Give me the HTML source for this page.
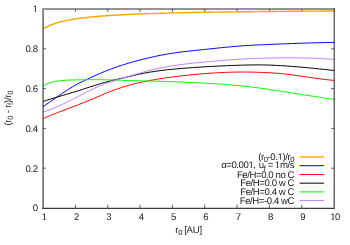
<!DOCTYPE html>
<html><head><meta charset="utf-8"><title>plot</title>
<style>
html,body{margin:0;padding:0;background:#fff;width:350px;height:245px;overflow:hidden}
svg{position:absolute;left:0;top:0;display:block}
#t{opacity:0.9;will-change:transform}
svg text{font-family:"Liberation Sans",sans-serif;font-size:9.6px;letter-spacing:-0.42px;fill:#000;text-rendering:geometricPrecision}
</style></head><body>
<svg width="350" height="245" viewBox="0 0 350 245">
<rect width="350" height="245" fill="#fff"/>
<path d="M75.43,208.0 v-3.3 M75.43,9.0 v2.9 M107.77,208.0 v-3.3 M107.77,9.0 v2.9 M140.10,208.0 v-3.3 M140.10,9.0 v2.9 M172.43,208.0 v-3.3 M172.43,9.0 v2.9 M204.77,208.0 v-3.3 M204.77,9.0 v2.9 M237.10,208.0 v-3.3 M237.10,9.0 v2.9 M269.43,208.0 v-3.3 M269.43,9.0 v2.9 M301.77,208.0 v-3.3 M301.77,9.0 v2.9 M43.1,168.20 h2.8 M334.1,168.20 h-3.0 M43.1,128.40 h2.8 M334.1,128.40 h-3.0 M43.1,88.60 h2.8 M334.1,88.60 h-3.0 M43.1,48.80 h2.8 M334.1,48.80 h-3.0" stroke="#000" stroke-opacity="0.62" stroke-width="1.0" fill="none"/>
<path d="M43.10,28.90 L45.55,27.50 L47.99,26.29 L50.44,25.22 L52.88,24.28 L55.33,23.44 L57.77,22.69 L60.22,22.01 L62.66,21.40 L65.11,20.84 L67.55,20.33 L70.00,19.86 L72.44,19.43 L74.89,19.03 L77.34,18.67 L79.78,18.32 L82.23,18.00 L84.67,17.71 L87.12,17.43 L89.56,17.17 L92.01,16.92 L94.45,16.69 L96.90,16.47 L99.34,16.26 L101.79,16.07 L104.23,15.88 L106.68,15.71 L109.13,15.54 L111.57,15.38 L114.02,15.23 L116.46,15.09 L118.91,14.95 L121.35,14.82 L123.80,14.69 L126.24,14.57 L128.69,14.46 L131.13,14.35 L133.58,14.24 L136.02,14.14 L138.47,14.04 L140.92,13.94 L143.36,13.85 L145.81,13.76 L148.25,13.68 L150.70,13.60 L153.14,13.52 L155.59,13.44 L158.03,13.37 L160.48,13.30 L162.92,13.23 L165.37,13.16 L167.81,13.10 L170.26,13.03 L172.71,12.97 L175.15,12.91 L177.60,12.86 L180.04,12.80 L182.49,12.75 L184.93,12.69 L187.38,12.64 L189.82,12.59 L192.27,12.55 L194.71,12.50 L197.16,12.45 L199.60,12.41 L202.05,12.36 L204.49,12.32 L206.94,12.28 L209.39,12.24 L211.83,12.20 L214.28,12.16 L216.72,12.12 L219.17,12.09 L221.61,12.05 L224.06,12.02 L226.50,11.98 L228.95,11.95 L231.39,11.92 L233.84,11.88 L236.28,11.85 L238.73,11.82 L241.18,11.79 L243.62,11.76 L246.07,11.73 L248.51,11.71 L250.96,11.68 L253.40,11.65 L255.85,11.63 L258.29,11.60 L260.74,11.57 L263.18,11.55 L265.63,11.52 L268.07,11.50 L270.52,11.48 L272.97,11.45 L275.41,11.43 L277.86,11.41 L280.30,11.39 L282.75,11.37 L285.19,11.34 L287.64,11.32 L290.08,11.30 L292.53,11.28 L294.97,11.26 L297.42,11.24 L299.86,11.23 L302.31,11.21 L304.76,11.19 L307.20,11.17 L309.65,11.15 L312.09,11.14 L314.54,11.12 L316.98,11.10 L319.43,11.08 L321.87,11.07 L324.32,11.05 L326.76,11.04 L329.21,11.02 L331.65,11.01 L334.10,10.99" stroke="#ffa500" stroke-width="1.4" fill="none" stroke-linejoin="round"/>
<path d="M43.10,106.50 L45.55,104.89 L47.99,103.24 L50.44,101.57 L52.88,99.88 L55.33,98.19 L57.77,96.50 L60.22,94.82 L62.66,93.16 L65.11,91.52 L67.55,89.93 L70.00,88.39 L72.44,86.90 L74.89,85.48 L77.34,84.13 L79.78,82.85 L82.23,81.63 L84.67,80.45 L87.12,79.29 L89.56,78.15 L92.01,77.01 L94.45,75.90 L96.90,74.80 L99.34,73.72 L101.79,72.67 L104.23,71.65 L106.68,70.67 L109.13,69.71 L111.57,68.79 L114.02,67.90 L116.46,67.04 L118.91,66.21 L121.35,65.41 L123.80,64.63 L126.24,63.88 L128.69,63.14 L131.13,62.44 L133.58,61.75 L136.02,61.08 L138.47,60.43 L140.92,59.79 L143.36,59.17 L145.81,58.57 L148.25,57.98 L150.70,57.41 L153.14,56.86 L155.59,56.33 L158.03,55.82 L160.48,55.33 L162.92,54.86 L165.37,54.41 L167.81,53.98 L170.26,53.57 L172.71,53.19 L175.15,52.83 L177.60,52.49 L180.04,52.16 L182.49,51.85 L184.93,51.55 L187.38,51.27 L189.82,51.00 L192.27,50.73 L194.71,50.47 L197.16,50.22 L199.60,49.96 L202.05,49.71 L204.49,49.46 L206.94,49.21 L209.39,48.95 L211.83,48.70 L214.28,48.44 L216.72,48.18 L219.17,47.93 L221.61,47.68 L224.06,47.43 L226.50,47.19 L228.95,46.95 L231.39,46.73 L233.84,46.51 L236.28,46.30 L238.73,46.11 L241.18,45.92 L243.62,45.75 L246.07,45.59 L248.51,45.44 L250.96,45.29 L253.40,45.16 L255.85,45.03 L258.29,44.92 L260.74,44.80 L263.18,44.69 L265.63,44.59 L268.07,44.48 L270.52,44.38 L272.97,44.28 L275.41,44.18 L277.86,44.08 L280.30,43.99 L282.75,43.89 L285.19,43.80 L287.64,43.71 L290.08,43.61 L292.53,43.53 L294.97,43.44 L297.42,43.35 L299.86,43.27 L302.31,43.19 L304.76,43.11 L307.20,43.04 L309.65,42.96 L312.09,42.89 L314.54,42.82 L316.98,42.76 L319.43,42.70 L321.87,42.64 L324.32,42.58 L326.76,42.53 L329.21,42.48 L331.65,42.44 L334.10,42.40" stroke="#0000ff" stroke-width="1.0" fill="none" stroke-linejoin="round"/>
<path d="M43.10,118.50 L45.55,117.46 L47.99,116.44 L50.44,115.44 L52.88,114.46 L55.33,113.50 L57.77,112.55 L60.22,111.61 L62.66,110.68 L65.11,109.75 L67.55,108.83 L70.00,107.91 L72.44,106.99 L74.89,106.06 L77.34,105.13 L79.78,104.19 L82.23,103.24 L84.67,102.27 L87.12,101.29 L89.56,100.29 L92.01,99.27 L94.45,98.23 L96.90,97.17 L99.34,96.11 L101.79,95.05 L104.23,94.01 L106.68,92.98 L109.13,91.99 L111.57,91.03 L114.02,90.11 L116.46,89.23 L118.91,88.39 L121.35,87.58 L123.80,86.81 L126.24,86.08 L128.69,85.38 L131.13,84.71 L133.58,84.07 L136.02,83.46 L138.47,82.87 L140.92,82.32 L143.36,81.79 L145.81,81.28 L148.25,80.80 L150.70,80.34 L153.14,79.90 L155.59,79.48 L158.03,79.07 L160.48,78.69 L162.92,78.31 L165.37,77.96 L167.81,77.61 L170.26,77.28 L172.71,76.96 L175.15,76.64 L177.60,76.34 L180.04,76.05 L182.49,75.76 L184.93,75.49 L187.38,75.23 L189.82,74.97 L192.27,74.73 L194.71,74.49 L197.16,74.27 L199.60,74.05 L202.05,73.84 L204.49,73.65 L206.94,73.46 L209.39,73.28 L211.83,73.11 L214.28,72.96 L216.72,72.81 L219.17,72.67 L221.61,72.55 L224.06,72.44 L226.50,72.34 L228.95,72.25 L231.39,72.18 L233.84,72.12 L236.28,72.08 L238.73,72.05 L241.18,72.04 L243.62,72.04 L246.07,72.05 L248.51,72.07 L250.96,72.11 L253.40,72.16 L255.85,72.22 L258.29,72.29 L260.74,72.37 L263.18,72.47 L265.63,72.57 L268.07,72.69 L270.52,72.82 L272.97,72.97 L275.41,73.13 L277.86,73.31 L280.30,73.52 L282.75,73.75 L285.19,74.01 L287.64,74.29 L290.08,74.59 L292.53,74.90 L294.97,75.23 L297.42,75.58 L299.86,75.93 L302.31,76.29 L304.76,76.65 L307.20,77.01 L309.65,77.38 L312.09,77.74 L314.54,78.09 L316.98,78.44 L319.43,78.77 L321.87,79.09 L324.32,79.40 L326.76,79.68 L329.21,79.95 L331.65,80.19 L334.10,80.40" stroke="#ff0000" stroke-width="1.0" fill="none" stroke-linejoin="round"/>
<path d="M43.10,101.50 L45.55,100.68 L47.99,99.89 L50.44,99.11 L52.88,98.36 L55.33,97.61 L57.77,96.88 L60.22,96.15 L62.66,95.43 L65.11,94.71 L67.55,93.99 L70.00,93.26 L72.44,92.52 L74.89,91.77 L77.34,91.01 L79.78,90.24 L82.23,89.45 L84.67,88.66 L87.12,87.87 L89.56,87.08 L92.01,86.29 L94.45,85.52 L96.90,84.75 L99.34,84.01 L101.79,83.28 L104.23,82.58 L106.68,81.90 L109.13,81.25 L111.57,80.63 L114.02,80.04 L116.46,79.47 L118.91,78.91 L121.35,78.36 L123.80,77.80 L126.24,77.23 L128.69,76.65 L131.13,76.06 L133.58,75.48 L136.02,74.91 L138.47,74.35 L140.92,73.83 L143.36,73.33 L145.81,72.87 L148.25,72.43 L150.70,72.02 L153.14,71.63 L155.59,71.27 L158.03,70.93 L160.48,70.60 L162.92,70.30 L165.37,70.01 L167.81,69.74 L170.26,69.48 L172.71,69.24 L175.15,69.00 L177.60,68.78 L180.04,68.56 L182.49,68.35 L184.93,68.16 L187.38,67.97 L189.82,67.79 L192.27,67.61 L194.71,67.45 L197.16,67.29 L199.60,67.13 L202.05,66.98 L204.49,66.84 L206.94,66.69 L209.39,66.56 L211.83,66.42 L214.28,66.29 L216.72,66.17 L219.17,66.04 L221.61,65.93 L224.06,65.82 L226.50,65.71 L228.95,65.60 L231.39,65.51 L233.84,65.41 L236.28,65.33 L238.73,65.24 L241.18,65.17 L243.62,65.10 L246.07,65.03 L248.51,64.98 L250.96,64.94 L253.40,64.91 L255.85,64.89 L258.29,64.89 L260.74,64.91 L263.18,64.94 L265.63,64.99 L268.07,65.06 L270.52,65.14 L272.97,65.24 L275.41,65.35 L277.86,65.48 L280.30,65.61 L282.75,65.76 L285.19,65.91 L287.64,66.08 L290.08,66.25 L292.53,66.43 L294.97,66.63 L297.42,66.83 L299.86,67.03 L302.31,67.25 L304.76,67.47 L307.20,67.70 L309.65,67.93 L312.09,68.17 L314.54,68.41 L316.98,68.66 L319.43,68.91 L321.87,69.17 L324.32,69.43 L326.76,69.69 L329.21,69.96 L331.65,70.23 L334.10,70.50" stroke="#000000" stroke-width="1.0" fill="none" stroke-linejoin="round"/>
<path d="M43.10,85.80 L45.55,84.49 L47.99,83.45 L50.44,82.65 L52.88,82.01 L55.33,81.51 L57.77,81.10 L60.22,80.79 L62.66,80.53 L65.11,80.33 L67.55,80.18 L70.00,80.06 L72.44,79.97 L74.89,79.91 L77.34,79.85 L79.78,79.80 L82.23,79.76 L84.67,79.74 L87.12,79.72 L89.56,79.70 L92.01,79.70 L94.45,79.70 L96.90,79.70 L99.34,79.72 L101.79,79.75 L104.23,79.78 L106.68,79.83 L109.13,79.89 L111.57,79.96 L114.02,80.03 L116.46,80.11 L118.91,80.19 L121.35,80.27 L123.80,80.36 L126.24,80.44 L128.69,80.52 L131.13,80.59 L133.58,80.67 L136.02,80.74 L138.47,80.80 L140.92,80.87 L143.36,80.93 L145.81,80.99 L148.25,81.05 L150.70,81.11 L153.14,81.16 L155.59,81.22 L158.03,81.27 L160.48,81.33 L162.92,81.39 L165.37,81.46 L167.81,81.53 L170.26,81.61 L172.71,81.69 L175.15,81.78 L177.60,81.87 L180.04,81.97 L182.49,82.08 L184.93,82.18 L187.38,82.30 L189.82,82.41 L192.27,82.53 L194.71,82.66 L197.16,82.78 L199.60,82.91 L202.05,83.04 L204.49,83.17 L206.94,83.30 L209.39,83.43 L211.83,83.56 L214.28,83.70 L216.72,83.84 L219.17,83.99 L221.61,84.15 L224.06,84.32 L226.50,84.49 L228.95,84.68 L231.39,84.87 L233.84,85.09 L236.28,85.31 L238.73,85.55 L241.18,85.81 L243.62,86.07 L246.07,86.35 L248.51,86.65 L250.96,86.95 L253.40,87.26 L255.85,87.58 L258.29,87.91 L260.74,88.25 L263.18,88.60 L265.63,88.95 L268.07,89.30 L270.52,89.66 L272.97,90.03 L275.41,90.39 L277.86,90.76 L280.30,91.14 L282.75,91.51 L285.19,91.89 L287.64,92.27 L290.08,92.65 L292.53,93.03 L294.97,93.41 L297.42,93.80 L299.86,94.18 L302.31,94.56 L304.76,94.95 L307.20,95.33 L309.65,95.71 L312.09,96.09 L314.54,96.47 L316.98,96.84 L319.43,97.22 L321.87,97.59 L324.32,97.96 L326.76,98.33 L329.21,98.69 L331.65,99.05 L334.10,99.40" stroke="#00ff00" stroke-width="1.0" fill="none" stroke-linejoin="round"/>
<path d="M43.10,112.00 L45.55,111.25 L47.99,110.42 L50.44,109.52 L52.88,108.56 L55.33,107.55 L57.77,106.48 L60.22,105.37 L62.66,104.22 L65.11,103.04 L67.55,101.82 L70.00,100.59 L72.44,99.34 L74.89,98.08 L77.34,96.81 L79.78,95.54 L82.23,94.28 L84.67,93.03 L87.12,91.80 L89.56,90.60 L92.01,89.42 L94.45,88.28 L96.90,87.18 L99.34,86.13 L101.79,85.12 L104.23,84.18 L106.68,83.29 L109.13,82.44 L111.57,81.63 L114.02,80.85 L116.46,80.09 L118.91,79.35 L121.35,78.62 L123.80,77.89 L126.24,77.15 L128.69,76.41 L131.13,75.67 L133.58,74.92 L136.02,74.19 L138.47,73.47 L140.92,72.77 L143.36,72.09 L145.81,71.44 L148.25,70.81 L150.70,70.20 L153.14,69.61 L155.59,69.05 L158.03,68.51 L160.48,68.00 L162.92,67.51 L165.37,67.04 L167.81,66.59 L170.26,66.17 L172.71,65.78 L175.15,65.40 L177.60,65.04 L180.04,64.71 L182.49,64.39 L184.93,64.09 L187.38,63.80 L189.82,63.52 L192.27,63.26 L194.71,63.00 L197.16,62.76 L199.60,62.52 L202.05,62.29 L204.49,62.06 L206.94,61.83 L209.39,61.61 L211.83,61.38 L214.28,61.17 L216.72,60.95 L219.17,60.74 L221.61,60.54 L224.06,60.34 L226.50,60.15 L228.95,59.96 L231.39,59.78 L233.84,59.61 L236.28,59.44 L238.73,59.28 L241.18,59.14 L243.62,59.00 L246.07,58.87 L248.51,58.74 L250.96,58.63 L253.40,58.52 L255.85,58.43 L258.29,58.34 L260.74,58.25 L263.18,58.18 L265.63,58.11 L268.07,58.05 L270.52,57.99 L272.97,57.94 L275.41,57.90 L277.86,57.87 L280.30,57.84 L282.75,57.82 L285.19,57.80 L287.64,57.80 L290.08,57.80 L292.53,57.81 L294.97,57.83 L297.42,57.86 L299.86,57.89 L302.31,57.94 L304.76,57.99 L307.20,58.05 L309.65,58.13 L312.09,58.21 L314.54,58.30 L316.98,58.40 L319.43,58.51 L321.87,58.63 L324.32,58.77 L326.76,58.91 L329.21,59.06 L331.65,59.23 L334.10,59.40" stroke="#c080ff" stroke-width="1.0" fill="none" stroke-linejoin="round"/>
<path d="M299.6,157.00 H324.0" stroke="#ffa500" stroke-width="1.4"/>
<path d="M299.6,165.72 H324.0" stroke="#0000ff" stroke-width="1.0"/>
<path d="M299.6,174.44 H324.0" stroke="#ff0000" stroke-width="1.0"/>
<path d="M299.6,183.16 H324.0" stroke="#000000" stroke-width="1.0"/>
<path d="M299.6,191.88 H324.0" stroke="#00ff00" stroke-width="1.0"/>
<path d="M299.6,200.60 H324.0" stroke="#c080ff" stroke-width="1.0"/>
<path d="M43.1,208.5 V8.25" fill="none" stroke="#000" stroke-opacity="0.52" stroke-width="1.75"/>
<path d="M43.97,9.0 H334.6" fill="none" stroke="#000" stroke-opacity="0.56" stroke-width="1.5"/>
<path d="M42.25,208.3 H334.20000000000005 V8.15" fill="none" stroke="#000" stroke-opacity="0.76" stroke-width="1.15" stroke-linejoin="miter"/>
</svg>
<svg id="t" width="350" height="245" viewBox="0 0 350 245">
<text transform="translate(294.1 159.50) scale(1.0 1)" text-anchor="end">(r<tspan dy="2.7" font-size="7.68">0</tspan><tspan dy="-2.7">-0.1)/r</tspan><tspan dy="2.7" font-size="7.68">0</tspan></text>
<text transform="translate(294.1 168.22) scale(1.0 1)" text-anchor="end">α=0.001,<tspan dx="0.9"> u</tspan><tspan dy="2.7" dx="0" font-size="7.68">f</tspan><tspan dy="-2.7" dx="0"> =</tspan><tspan dx="-0.3"> 1</tspan><tspan dx="0.2">m/s</tspan></text>
<text transform="translate(294.1 177.64) scale(1.0 1)" text-anchor="end">Fe/H=0.0 no C</text>
<text transform="translate(294.1 186.36) scale(1.0 1)" text-anchor="end">Fe/H=0.0 w C</text>
<text transform="translate(294.1 195.08) scale(1.0 1)" text-anchor="end">Fe/H=0.4 w C</text>
<text transform="translate(294.1 203.80) scale(1.0 1)" text-anchor="end">Fe/H=-0.4 wC</text>
<text transform="translate(44.10 220.4) scale(1.0 1)" text-anchor="middle">1</text>
<text transform="translate(76.43 220.4) scale(1.0 1)" text-anchor="middle">2</text>
<text transform="translate(108.77 220.4) scale(1.0 1)" text-anchor="middle">3</text>
<text transform="translate(141.10 220.4) scale(1.0 1)" text-anchor="middle">4</text>
<text transform="translate(173.43 220.4) scale(1.0 1)" text-anchor="middle">5</text>
<text transform="translate(205.77 220.4) scale(1.0 1)" text-anchor="middle">6</text>
<text transform="translate(238.10 220.4) scale(1.0 1)" text-anchor="middle">7</text>
<text transform="translate(270.43 220.4) scale(1.0 1)" text-anchor="middle">8</text>
<text transform="translate(302.77 220.4) scale(1.0 1)" text-anchor="middle">9</text>
<text transform="translate(335.10 220.4) scale(1.0 1)" text-anchor="middle">10</text>
<text transform="translate(37.7 211.25) scale(1.0 1)" text-anchor="end">0</text>
<text transform="translate(37.7 171.95) scale(1.0 1)" text-anchor="end">0.2</text>
<text transform="translate(37.7 132.20) scale(1.0 1)" text-anchor="end">0.4</text>
<text transform="translate(37.7 91.60) scale(1.0 1)" text-anchor="end">0.6</text>
<text transform="translate(37.7 51.75) scale(1.0 1)" text-anchor="end">0.8</text>
<text transform="translate(37.7 11.90) scale(1.0 1)" text-anchor="end">1</text>
<text transform="translate(188.5 232.6) scale(1.0 1)" text-anchor="middle">r<tspan dy="2.7" font-size="7.68">0</tspan><tspan dy="-2.7"> [A<tspan dx="0.35">U</tspan><tspan dx="0.1">]</tspan></tspan></text>
<text transform="translate(11,108.1) rotate(-90)" style="letter-spacing:-0.24px" text-anchor="middle">(r<tspan dy="1.6" font-size="7.68">0</tspan><tspan dy="-1.6"> - r</tspan><tspan dy="1.6" font-size="7.68">f</tspan><tspan dy="-1.6">)/r</tspan><tspan dy="1.6" font-size="7.68">0</tspan></text>
<rect x="277.79" y="158.49" width="2.13" height="1.55" fill="#fff"/>
<rect x="280.77" y="158.49" width="2.03" height="1.55" fill="#fff"/>
<rect x="248.71" y="167.21" width="2.13" height="1.55" fill="#fff"/>
<rect x="251.69" y="167.21" width="2.03" height="1.55" fill="#fff"/>
<rect x="275.04" y="167.21" width="2.13" height="1.55" fill="#fff"/>
<rect x="278.02" y="167.21" width="2.03" height="1.55" fill="#fff"/>
<rect x="41.92" y="219.39" width="2.13" height="1.55" fill="#fff"/>
<rect x="44.90" y="219.39" width="2.03" height="1.55" fill="#fff"/>
<rect x="330.46" y="219.39" width="2.13" height="1.55" fill="#fff"/>
<rect x="333.44" y="219.39" width="2.03" height="1.55" fill="#fff"/>
<rect x="33.06" y="10.89" width="2.13" height="1.55" fill="#fff"/>
<rect x="36.04" y="10.89" width="2.03" height="1.55" fill="#fff"/>
</svg>
</body></html>
